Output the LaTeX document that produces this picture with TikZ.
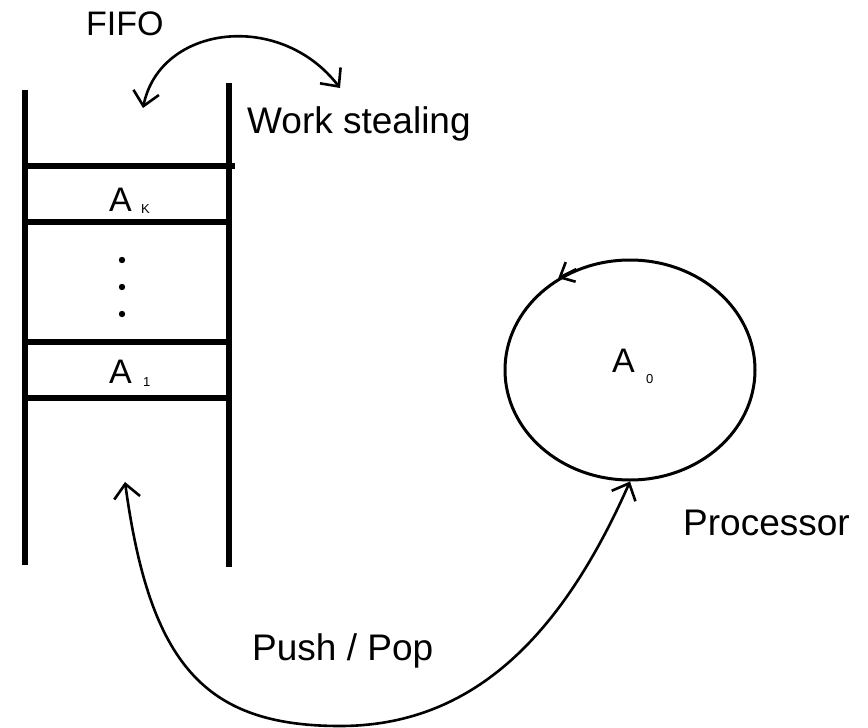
\documentclass[tikz,border=0pt]{standalone}
\usepackage{fontspec}
\setmainfont{Liberation Sans}
\usetikzlibrary{shapes.geometric,arrows.meta}
\begin{document}
\begin{tikzpicture}[x=1pt,y=-1pt,
  wall/.style={line width=6pt},
  conn/.style={line width=2.6pt,{Straight Barb[length=14pt,width=26pt,line width=2.6pt]}-{Straight Barb[length=14pt,width=26pt,line width=2.6pt]}},
  lbl/.style={font=\fontsize{37}{40}\selectfont,inner sep=0pt,anchor=base west},
  cell/.style={font=\fontsize{34}{36}\selectfont,inner sep=0pt,anchor=base west},
  sub/.style={font=\fontsize{13}{14}\selectfont,inner sep=0pt,anchor=base west}]
\useasboundingbox (0,0) rectangle (868,728);
% stack
\draw[wall] (25,90) -- (25,565);
\draw[wall] (229,83) -- (229,567);
\draw[wall] (22,166) -- (235,166);
\draw[wall] (22,222) -- (232,222);
\draw[wall] (22,342) -- (232,342);
\draw[wall] (22,398) -- (232,398);
\node[cell] (ak) at (109,211) {A};
\node[sub] (aks) at (141,213) {K};
\node[cell] (a1) at (109,383) {A};
\node[sub] (a1s) at (143,386) {1};
\foreach \y/\n in {260/d1,287/d2,314/d3}
  \fill (122,\y) circle (3.2pt);
% processor
\node[ellipse,draw,line width=3pt,minimum width=250pt,minimum height=220pt,inner sep=0pt] (proc) at (630,370) {};
\node[cell] (a0) at (612,372) {A};
\node[sub] (a0s) at (646,383) {0};
\draw[line width=2.6pt,-{Straight Barb[length=12pt,width=22pt,line width=2.6pt]}] (proc.118) -- (proc.128);
% labels
\node[lbl,font=\fontsize{34}{36}\selectfont] (fifo) at (86,35) {FIFO};
\node[lbl] (ws) at (247,133) {Work stealing};
\node[lbl] (pr) at (683,535) {Processor};
\node[lbl] (pp) at (252,660) {Push / Pop};
% connectors
\coordinate (ftip) at (143,108);
\coordinate (wtip) at (340,88);
\draw[conn] (ftip) .. controls (160,25) and (280,10) .. (wtip);
\coordinate (stip) at (125,482);
\coordinate (bot) at (340,726);
\draw[conn] (stip) .. controls (150,665) and (205,726) .. (bot) .. controls (470,726) and (560,640) .. (proc.south);
\end{tikzpicture}
\end{document}
